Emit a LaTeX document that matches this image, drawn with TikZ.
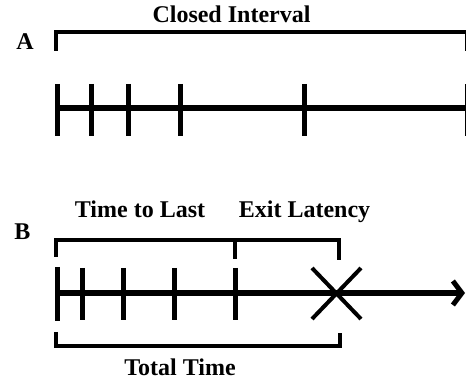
\documentclass[tikz,border=0pt]{standalone}
\usepackage{fontspec}
\setmainfont{Liberation Serif}
\usetikzlibrary{arrows.meta}
\begin{document}
\begin{tikzpicture}[x=1pt,y=-1pt,
  lbl/.style={font=\fontsize{24}{26}\selectfont\bfseries,anchor=base,inner sep=0pt},
  brk/.style={line width=4.5pt,line join=miter},
  axis/.style={line width=6pt},
  tck/.style={line width=5pt}]
\useasboundingbox (0,0) rectangle (466,379);
\begin{scope}
\clip (0,0) rectangle (466,379);
% Panel A
\node[lbl] (tA) at (231.5,23) {Closed Interval};
\node[lbl] (lA) at (25,50) {A};
\draw[brk] (56,51) -- (56,32) -- (467,32) -- (467,51);
\coordinate (a0) at (56,108);
\coordinate (a1) at (470,108);
\draw[axis] (a0) -- (a1);
\foreach \x in {57,91,128,180,304,467}
  \draw[tck] (\x,84) -- (\x,136);
% Panel B
\node[lbl] (lB) at (22.5,240) {B};
\node[lbl] (tL) at (140,218) {Time to Last};
\node[lbl] (tE) at (304.5,218) {Exit Latency};
\draw[brk] (56,257) -- (56,240) -- (339,240) -- (339,260);
\draw[brk] (235,240) -- (235,259);
\coordinate (b0) at (56,293);
\coordinate (b1) at (465,293);
\draw[axis,-{Straight Barb[length=9pt,width=24pt,line width=5pt]}] (b0) -- (b1);
\draw[tck] (57,267) -- (57,321);
\foreach \x in {82,123,174,235}
  \draw[tck] (\x,268) -- (\x,320);
\coordinate (xc) at (337,293);
\draw[line width=4pt] (312,268) -- (361,319);
\draw[line width=4pt] (312,319) -- (361,268);
\draw[brk] (56,332) -- (56,346) -- (340,346) -- (340,333);
\node[lbl] (tT) at (180,375) {Total Time};
\end{scope}
\end{tikzpicture}
\end{document}
